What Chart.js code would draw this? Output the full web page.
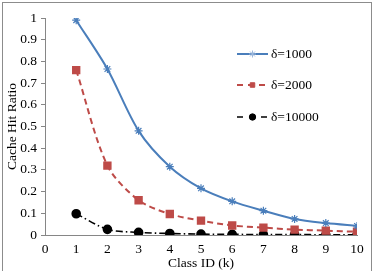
<!DOCTYPE html>
<html>
<head>
<meta charset="utf-8">
<script src="https://cdn.jsdelivr.net/npm/chart.js@4.4.0/dist/chart.umd.min.js"></script>
<style>
    html, body { margin: 0; padding: 0; background: #fff; overflow: hidden; }
    #frame {
        position: absolute; left: 2px; top: 2px;
        width: 368px; height: 270px;
        border: 1px solid #8c8c8c;
    }
    #chart { display: block; }
</style>
</head>
<body>
<div id="frame"><canvas id="chart" width="368" height="268"></canvas></div>
<script>
// values
const classIds = [1, 2, 3, 4, 5, 6, 7, 8, 9, 10];
const hit1000 = [0.99, 0.765, 0.48, 0.315, 0.215, 0.155, 0.112, 0.074, 0.055, 0.042];
const hit2000 = [0.76, 0.32, 0.16, 0.097, 0.066, 0.044, 0.034, 0.025, 0.02, 0.015];
const hit10000 = [0.098, 0.026, 0.012, 0.007, 0.004, 0.003, 0.002, 0.002, 0.001, 0.001];
const seriesNames = ['δ=1000', 'δ=2000', 'δ=10000'];
const yTicks = [0, 0.1, 0.2, 0.3, 0.4, 0.5, 0.6, 0.7, 0.8, 0.9, 1];

const FONT = "'Liberation Serif', 'Times New Roman', serif";
const FS = 13.5;

function toPoints(values) {
    return classIds.map((k, i) => ({x: k, y: values[i]}));
}

/** draws the legend inside the plot like the original */
const insideLegend = {
    id: 'insideLegend',
    afterDraw(chart) {
        const ctx = chart.ctx;
        const rows = [51, 82, 114];   // canvas coords (page y - 3)
        const x0 = 234, x1 = 265;
        const legendDash = [null, [6, 5], [6, 6]];
        chart.data.datasets.forEach((ds, i) => {
            const y = rows[i];
            ctx.save();
            ctx.strokeStyle = ds.borderColor;
            ctx.lineWidth = ds.borderWidth;
            ctx.setLineDash(legendDash[i] || []);
            ctx.beginPath();
            ctx.moveTo(x0, y);
            ctx.lineTo(x1, y);
            ctx.stroke();
            ctx.setLineDash([]);
            ctx.fillStyle = ds.backgroundColor;
            ctx.strokeStyle = i === 0 ? '#9db8dc' : ds.borderColor;
            ctx.lineWidth = 1;
            Chart.helpers.drawPoint(ctx, {
                pointStyle: ds.pointStyle,
                radius: i === 0 ? 3.5 : 3.2,
                borderWidth: 1
            }, (x0 + x1) / 2, y);
            ctx.fillStyle = '#000';
            ctx.font = FS + 'px ' + FONT;
            ctx.textBaseline = 'middle';
            ctx.fillText(ds.label, x1 + 3, y);
            ctx.restore();
        });
    }
};

const ctx = document.getElementById('chart').getContext('2d');
const chart = new Chart(ctx, {
    type: 'line',
    data: {
        datasets: [
            {
                label: seriesNames[0],
                data: toPoints(hit1000),
                borderColor: '#4a7ebb',
                backgroundColor: '#4a7ebb',
                borderWidth: 2,
                pointStyle: 'star',
                pointRadius: 4,
                pointBorderWidth: 1.2,
                tension: 0.3
            },
            {
                label: seriesNames[1],
                data: toPoints(hit2000),
                borderColor: '#be4b48',
                backgroundColor: '#be4b48',
                borderWidth: 2,
                borderDash: [6, 4],
                pointStyle: 'rect',
                pointRadius: 4.5,
                tension: 0.3
            },
            {
                label: seriesNames[2],
                data: toPoints(hit10000),
                borderColor: '#000',
                backgroundColor: '#000',
                borderWidth: 1.6,
                borderDash: [7, 3, 1.5, 3],
                pointStyle: 'circle',
                pointRadius: 4,
                tension: 0.3
            }
        ]
    },
    options: {
        responsive: false,
        animation: false,
        layout: {padding: {left: 0, right: 14, top: 15, bottom: 0}},
        plugins: {
            legend: {display: false},
            tooltip: {enabled: false}
        },
        scales: {
            x: {
                type: 'linear',
                min: 0,
                max: 10,
                afterFit: (axis) => { axis.height = 36; },
                grid: {display: false},
                border: {display: true, color: '#868686', width: 1},
                ticks: {stepSize: 1, color: '#000', font: {family: FONT, size: FS}, padding: -2},
                title: {display: true, text: 'Class ID (k)', color: '#000', font: {family: FONT, size: FS}, padding: {top: 0, bottom: -1}}
            },
            y: {
                min: 0,
                max: 1,
                afterBuildTicks: (axis) => { axis.ticks = yTicks.map(v => ({value: v})); },
                afterFit: (axis) => { axis.width = 42; },
                grid: {drawOnChartArea: false, drawTicks: true, tickLength: 4, color: '#868686'},
                border: {display: true, color: '#868686', width: 1},
                ticks: {
                    color: '#000', font: {family: FONT, size: FS}, padding: 4,
                    callback: (v) => String(Math.round(v * 10) / 10)
                },
                title: {display: true, text: 'Cache Hit Ratio', color: '#000', font: {family: FONT, size: FS}, padding: {top: 1, bottom: 0}}
            }
        }
    },
    plugins: [insideLegend]
});
</script>
</body>
</html>
